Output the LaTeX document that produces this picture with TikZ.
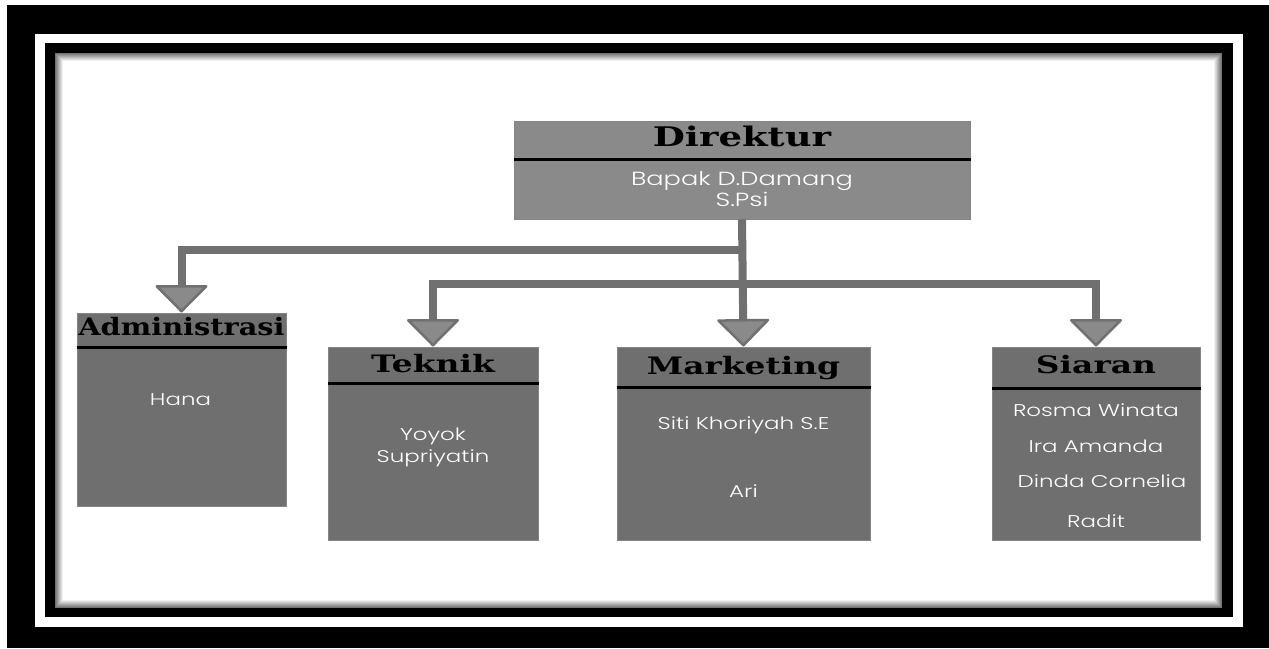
\documentclass[tikz,border=0pt]{standalone}
\usepackage{fontspec}
\usetikzlibrary{arrows.meta, positioning, calc}
\newfontfamily\headfont[FakeStretch=1.37]{DejaVu Serif}
\newfontfamily\headfontnarrow[FakeStretch=1.2]{DejaVu Serif}
\IfFontExistsTF{Poppins Light}
    {\newfontfamily\namefont[FakeStretch=1.35]{Poppins Light}}
    {\newfontfamily\namefont[FakeStretch=1.35]{Poppins}}
\definecolor{headgray}{HTML}{8A8A8A}
\definecolor{unitgray}{HTML}{6F6F6F}
\definecolor{linegray}{HTML}{707070}

\begin{document}
\begin{tikzpicture}[x=1pt, y=-1pt,
    unitbox/.style={fill=unitgray, draw=unitgray!85!white, line width=1pt, inner sep=0pt},
    unithead/.style={font=\headfont\bfseries\fontsize{24}{28}\selectfont, text=black, inner sep=0pt, anchor=base},
    member/.style={font=\namefont\fontsize{17}{20}\selectfont, text=white, inner sep=0pt, anchor=base},
    divider/.style={line width=3.5pt, black},
    link/.style={line width=8pt, draw=linegray, line join=miter,
        -{Triangle[width=55pt, length=28pt, line width=2.5pt, fill=headgray, round]}}]
    \useasboundingbox (0,0) rectangle (1269,648);
    \fill[white] (0,0) rectangle (1269,648);
    \fill[black] (7,5) rectangle (1269,648);
    \fill[white] (35,34) rectangle (1243,627);
    \fill[black] (45,43) rectangle (1233,617);
    \fill[white] (55,53) rectangle (1222,608);
    \foreach \i [evaluate=\i as \s using 55-7*\i] in {0,...,7}
        \draw[black!\s, line width=1pt] (55.5+\i,53.5+\i) rectangle (1221.5-\i,607.5-\i);

    \node[unitbox, fill=headgray, minimum width=456pt, minimum height=98pt] (direktur) at (742,170) {};
    \node[unitbox, minimum width=209pt, minimum height=193pt] (administrasi) at (181.5,409.5) {};
    \node[unitbox, minimum width=210pt, minimum height=193pt] (teknik) at (433,443.5) {};
    \node[unitbox, minimum width=253pt, minimum height=193pt] (marketing) at (743.5,443.5) {};
    \node[unitbox, minimum width=208pt, minimum height=193pt] (siaran) at (1096,443.5) {};

    \node[unithead, font=\headfont\bfseries\fontsize{27}{30}\selectfont] (direktur_head) at ($(direktur.north)+(0,26)$) {Direktur};
    \draw[divider] ($(direktur.north west)+(0,39)$) -- ($(direktur.north east)+(0,39)$);
    \node[member, font=\namefont\fontsize{19}{22}\selectfont] (bapak) at ($(direktur.north)+(0,65)$) {Bapak D.Damang};
    \node[member, font=\namefont\fontsize{19}{22}\selectfont] (spsi) at ($(direktur.north)+(0,86)$) {S.Psi};

    \node[unithead, font=\headfontnarrow\bfseries\fontsize{24}{28}\selectfont] (administrasi_head) at ($(administrasi.north)+(0,23)$) {Administrasi};
    \draw[divider] ($(administrasi.north west)+(0,35)$) -- ($(administrasi.north east)+(0,35)$);
    \node[member] (hana) at ($(administrasi.north)+(-1,93)$) {Hana};

    \node[unithead] (teknik_head) at ($(teknik.north)+(0,26)$) {Teknik};
    \draw[divider] ($(teknik.north west)+(0,37)$) -- ($(teknik.north east)+(0,37)$);
    \node[member] (yoyok) at ($(teknik.north)+(0,94)$) {Yoyok};
    \node[member] (supriyatin) at ($(teknik.north)+(0,116)$) {Supriyatin};

    \node[unithead] (marketing_head) at ($(marketing.north)+(0,28)$) {Marketing};
    \draw[divider] ($(marketing.north west)+(0,41)$) -- ($(marketing.north east)+(0,41)$);
    \node[member] (siti) at ($(marketing.north)+(0,83)$) {Siti Khoriyah S.E};
    \node[member] (ari) at ($(marketing.north)+(0,151)$) {Ari};

    \node[unithead] (siaran_head) at ($(siaran.north)+(0,27)$) {Siaran};
    \draw[divider] ($(siaran.north west)+(0,42)$) -- ($(siaran.north east)+(0,42)$);
    \node[member] (rosma) at ($(siaran.north)+(0,70)$) {Rosma Winata};
    \node[member] (ira) at ($(siaran.north)+(0,106)$) {Ira Amanda};
    \node[member] (dinda) at ($(siaran.north)+(6,141)$) {Dinda Cornelia};
    \node[member] (radit) at ($(siaran.north)+(0,181)$) {Radit};

    \coordinate (bus_top) at ($(direktur.south)+(0,30)$);
    \coordinate (bus_low) at ($(direktur.south)+(0,64)$);
    \draw[link] (direktur.south) -- (marketing.north);
    \draw[link] (bus_top) -| (administrasi.north);
    \draw[link] (bus_low) -| (teknik.north);
    \draw[link] (bus_low) -| (siaran.north);
\end{tikzpicture}
\end{document}
